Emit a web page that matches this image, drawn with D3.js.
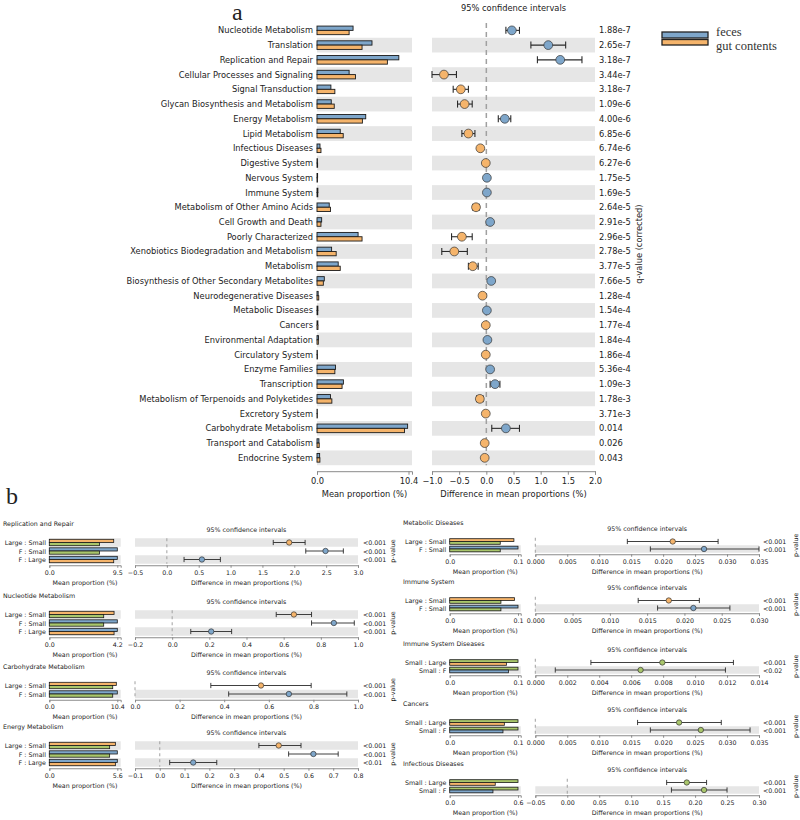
<!DOCTYPE html>
<html><head><meta charset="utf-8">
<script src="https://cdn.jsdelivr.net/npm/d3@7"></script>
<style>body{margin:0;background:#fff}svg{display:block}</style>
</head><body><svg id="c" width="800" height="820"></svg>
<script>
// ---------- Panel a data ----------
const catsA = ["Nucleotide Metabolism","Translation","Replication and Repair","Cellular Processes and Signaling","Signal Transduction","Glycan Biosynthesis and Metabolism","Energy Metabolism","Lipid Metabolism","Infectious Diseases","Digestive System","Nervous System","Immune System","Metabolism of Other Amino Acids","Cell Growth and Death","Poorly Characterized","Xenobiotics Biodegradation and Metabolism","Metabolism","Biosynthesis of Other Secondary Metabolites","Neurodegenerative Diseases","Metabolic Diseases","Cancers","Environmental Adaptation","Circulatory System","Enzyme Families","Transcription","Metabolism of Terpenoids and Polyketides","Excretory System","Carbohydrate Metabolism","Transport and Catabolism","Endocrine System"];
const fecesMeanA = [4.1,6.25,9.3,3.65,1.58,1.62,5.54,2.64,0.34,0.06,0.07,0.10,1.39,0.53,4.67,1.66,2.41,0.83,0.13,0.10,0.10,0.17,0.04,2.10,3.00,1.54,0.03,10.3,0.22,0.30];
const gutMeanA   = [3.65,5.12,8.0,4.37,2.03,1.96,5.16,2.98,0.45,0.07,0.06,0.09,1.54,0.45,5.12,2.18,2.64,0.72,0.20,0.09,0.11,0.15,0.05,2.03,2.85,1.69,0.04,9.95,0.25,0.33];
const diffA  = [0.47,1.14,1.36,-0.78,-0.47,-0.40,0.34,-0.33,-0.11,-0.01,0.01,0.01,-0.19,0.07,-0.45,-0.59,-0.25,0.09,-0.07,0.01,-0.01,0.02,-0.01,0.07,0.16,-0.12,-0.01,0.36,-0.03,-0.03];
const ciLowA = [0.36,0.82,0.94,-1.00,-0.61,-0.53,0.22,-0.45,-0.13,-0.02,0.00,0.00,-0.25,0.06,-0.64,-0.82,-0.33,0.07,-0.08,0.00,-0.02,0.01,-0.02,0.06,0.07,-0.18,-0.02,0.10,-0.04,-0.04];
const ciHighA= [0.61,1.46,1.76,-0.55,-0.33,-0.26,0.45,-0.21,-0.09,0.00,0.02,0.02,-0.13,0.08,-0.26,-0.35,-0.15,0.11,-0.06,0.02,0.00,0.03,0.00,0.08,0.25,-0.06,0.00,0.61,-0.02,-0.02];
const qValuesA = ["1.88e-7","2.65e-7","3.18e-7","3.44e-7","3.18e-7","1.09e-6","4.00e-6","6.85e-6","6.74e-6","6.27e-6","1.75e-5","1.69e-5","2.64e-5","2.91e-5","2.96e-5","2.78e-5","3.77e-5","7.66e-5","1.28e-4","1.54e-4","1.77e-4","1.84e-4","1.86e-4","5.36e-4","1.09e-3","1.78e-3","3.71e-3","0.014","0.026","0.043"];
const meanTicksA = ["0.0","10.4"];
const diffTicksA = ["−1.0","−0.5","0.0","0.5","1.0","1.5","2.0"];
const legendLabels = ["feces","gut contents"];

// ---------- Panel b data ----------
const bTitles = ["Replication and Repair","Nucleotide Metabolism","Carbohydrate Metabolism","Energy Metabolism","Metabolic Diseases","Immune System","Immune System Diseases","Cancers","Infectious Diseases"];
const bRows = [
  ["Large : Small","F : Small","F : Large"],
  ["Large : Small","F : Small","F : Large"],
  ["Large : Small","F : Small"],
  ["Large : Small","F : Small","F : Large"],
  ["Large : Small","F : Small"],
  ["Large : Small","F : Small"],
  ["Small : Large","Small : F"],
  ["Small : Large","Small : F"],
  ["Small : Large","Small : F"]];
const bTopMean = [[9.0,9.5,9.5],[4.0,4.2,4.2],[10.25,10.4],[5.44,5.6,5.6],[0.094,0.1],[0.095,0.1],[0.1,0.1],[0.1,0.1],[0.6,0.6]];
const bBottomMean = [[7.0,7.0,9.0],[3.36,3.36,4.0],[9.7,9.7],[4.97,4.97,5.44],[0.074,0.074],[0.075,0.075],[0.083,0.086],[0.080,0.078],[0.40,0.38]];
const bDiff = [[1.92,2.49,0.55],[0.655,0.87,0.21],[0.565,0.69],[0.48,0.62,0.135],[0.0215,0.0264],[0.0179,0.0212],[0.00795,0.00659],[0.0225,0.0259],[0.187,0.214]];
const bCiLow = [[1.67,2.18,0.27],[0.56,0.75,0.10],[0.34,0.42],[0.40,0.52,0.04],[0.0144,0.018],[0.0138,0.0164],[0.00348,0.00125],[0.016,0.018],[0.1555,0.163]];
const bCiHigh = [[2.17,2.77,0.84],[0.75,0.98,0.32],[0.79,0.95],[0.57,0.72,0.23],[0.0286,0.035],[0.022,0.0261],[0.0124,0.0119],[0.0291,0.0336],[0.218,0.25]];
const bPValues = [["<0.001","<0.001","<0.001"],["<0.001","<0.001","<0.001"],["<0.001","<0.001"],["<0.001","<0.001","<0.01"],["<0.001","<0.001"],["<0.001","<0.001"],["<0.001","<0.02"],["<0.001","<0.001"],["<0.001","<0.001"]];
const bMeanTicks = [["0.0","9.5"],["0.0","4.2"],["0.0","10.4"],["0.0","5.6"],["0.0","0.1"],["0.0","0.1"],["0.0","0.1"],["0.0","0.1"],["0.0","0.6"]];
const bDiffTicks = [
  ["−0.5","0.0","0.5","1.0","1.5","2.0","2.5","3.0"],
  ["−0.2","0.0","0.2","0.4","0.6","0.8","1.0"],
  ["0.0","0.2","0.4","0.6","0.8","1.0"],
  ["−0.1","0.0","0.1","0.2","0.3","0.4","0.5","0.6","0.7","0.8"],
  ["0.000","0.005","0.010","0.015","0.020","0.025","0.030","0.035"],
  ["0.000","0.005","0.010","0.015","0.020","0.025","0.030"],
  ["0.000","0.002","0.004","0.006","0.008","0.010","0.012","0.014"],
  ["0.000","0.005","0.010","0.015","0.020","0.025","0.030","0.035"],
  ["−0.05","0.00","0.05","0.10","0.15","0.20","0.25","0.30"]];

// ---------- styles ----------
const BLUE = "#7ea6ca", ORANGE = "#f5b46b", GREEN = "#a9c66b";
const groupColor = {F: BLUE, Large: ORANGE, Small: GREEN};
const BAND = "#e6e6e6", AX = "#8a8a8a", TXT = "#222", FONT = "DejaVu Sans";
const num = s => +String(s).replace("−", "-");
const svg = d3.select("#c");

function drawBlock(o) {
  const n = o.labels.length;
  const yb = d3.scaleBand().domain(d3.range(n)).range([o.yTop, o.yTop + n * o.step]);
  const cy = i => yb(i) + o.step / 2;
  const bandBottom = o.yTop + n * o.step;
  const mt = o.meanTicks.map(num);
  const mMax = mt[mt.length - 1];
  const xm = d3.scaleLinear().domain([0, mMax * o.ext]).range([o.mx0, o.mx0 + (o.mxTick - o.mx0) * o.ext]);
  const dt = o.diffTicks.map(num);
  const xd = d3.scaleLinear().domain([dt[0], dt[dt.length - 1]]).range([o.dx0, o.dx1]);
  const g = svg.append("g").style("font-family", FONT);
  const shaded = d3.range(n).filter(i => (n - 1 - i) % 2 === 0);
  g.selectAll(null).data(shaded).join("rect")
    .attr("x", xm.range()[0]).attr("y", i => yb(i)).attr("width", xm.range()[1] - xm.range()[0])
    .attr("height", o.step).attr("fill", BAND);
  g.selectAll(null).data(shaded).join("rect")
    .attr("x", o.dx0).attr("y", i => yb(i)).attr("width", o.dx1 - o.dx0)
    .attr("height", o.step).attr("fill", BAND);
  // row labels
  g.selectAll(null).data(o.labels).join("text")
    .attr("x", o.labelX).attr("y", (d, i) => cy(i)).attr("text-anchor", "end")
    .attr("dominant-baseline", "central").attr("fill", TXT).style("font-size", o.fs + "px").text(d => d);
  // bars
  const bars = d3.range(n).flatMap(i => [
    {i, v: o.top[i], c: o.topC[i], off: -o.barH},
    {i, v: o.bot[i], c: o.botC[i], off: 0}]);
  g.selectAll(null).data(bars).join("rect")
    .attr("x", xm(0)).attr("y", d => cy(d.i) + d.off)
    .attr("width", d => Math.max(0.3, xm(d.v) - xm(0))).attr("height", o.barH)
    .attr("fill", d => d.c).attr("stroke", "#1a1a1a").attr("stroke-width", o.sw);
  // zero line
  g.append("line").attr("x1", xd(0)).attr("x2", xd(0)).attr("y1", o.yTop).attr("y2", bandBottom)
    .attr("stroke", "#a0a0a0").attr("stroke-width", o.dashW).attr("stroke-dasharray", o.dash);
  // CIs
  const rows = d3.range(n);
  g.selectAll(null).data(rows).join("line")
    .attr("x1", i => xd(o.lo[i])).attr("x2", i => xd(o.hi[i])).attr("y1", cy).attr("y2", cy)
    .attr("stroke", "#2a2a2a").attr("stroke-width", o.lineW);
  rows.forEach(i => {
    [o.lo[i], o.hi[i]].forEach(v => {
      g.append("line").attr("x1", xd(v)).attr("x2", xd(v)).attr("y1", cy(i) - o.capH).attr("y2", cy(i) + o.capH)
        .attr("stroke", "#2a2a2a").attr("stroke-width", o.lineW);
    });
  });
  g.selectAll(null).data(rows).join("circle")
    .attr("cx", i => xd(o.diff[i])).attr("cy", cy).attr("r", o.r)
    .attr("fill", i => o.dotC[i]).attr("stroke", "#333").attr("stroke-width", 0.7);
  // axes
  const axY = bandBottom + o.axPad;
  function styleAxis(ax) {
    ax.attr("font-size", null).attr("font-family", null);
    ax.select(".domain").attr("stroke", AX);
    ax.selectAll(".tick line").attr("stroke", AX);
    ax.selectAll(".tick text").attr("y", o.tickLabDy).attr("dy", null).attr("dominant-baseline", "central")
      .attr("fill", TXT).style("font-size", o.fs + "px").style("font-family", FONT);
  }
  g.append("g").attr("transform", `translate(0,${axY})`)
    .call(d3.axisBottom(xm).tickValues(mt).tickFormat((d, i) => o.meanTicks[i]).tickSizeOuter(0).tickSize(o.tickLen))
    .call(styleAxis);
  g.append("g").attr("transform", `translate(0,${axY})`)
    .call(d3.axisBottom(xd).tickValues(dt).tickFormat((d, i) => o.diffTicks[i]).tickSizeOuter(0).tickSize(o.tickLen))
    .call(styleAxis);
  g.append("text").attr("x", (xm.range()[0] + xm.range()[1]) / 2).attr("y", axY + o.axLabDy)
    .attr("text-anchor", "middle").attr("dominant-baseline", "central").attr("fill", TXT)
    .style("font-size", o.fs + "px").text("Mean proportion (%)");
  g.append("text").attr("x", (o.dx0 + o.dx1) / 2).attr("y", axY + o.axLabDy)
    .attr("text-anchor", "middle").attr("dominant-baseline", "central").attr("fill", TXT)
    .style("font-size", o.fs + "px").text("Difference in mean proportions (%)");
  g.append("text").attr("x", (o.dx0 + o.dx1) / 2).attr("y", o.ciTitleY)
    .attr("text-anchor", "middle").attr("dominant-baseline", "central").attr("fill", TXT)
    .style("font-size", o.fs + "px").text("95% confidence intervals");
  // p / q values
  g.selectAll(null).data(o.pv).join("text")
    .attr("x", o.pX).attr("y", (d, i) => cy(i)).attr("dominant-baseline", "central")
    .attr("fill", TXT).style("font-size", o.fs + "px").text(d => d);
  const midY = (o.yTop + bandBottom) / 2;
  g.append("text").attr("transform", `translate(${o.pLabX},${midY}) rotate(-90)`)
    .attr("text-anchor", "middle").attr("dominant-baseline", "central").attr("fill", TXT)
    .style("font-size", o.fs + "px").text(o.pLabText);
  if (o.title) {
    g.append("text").attr("x", o.titleX).attr("y", o.titleY).attr("dominant-baseline", "central")
      .attr("fill", TXT).style("font-size", o.fs + "px").text(o.title);
  }
}

// ---------- Panel a ----------
drawBlock({
  labels: catsA, top: fecesMeanA, bot: gutMeanA,
  topC: catsA.map(() => BLUE), botC: catsA.map(() => ORANGE),
  diff: diffA, lo: ciLowA, hi: ciHighA, dotC: diffA.map(d => d > 0 ? BLUE : ORANGE),
  pv: qValuesA, meanTicks: meanTicksA, diffTicks: diffTicksA,
  yTop: 23, step: 14.74, labelX: 313, mx0: 317, mxTick: 408.5, ext: 1.038,
  dx0: 432, dx1: 595, pX: 599, pLabX: 639, pLabText: "q-value (corrected)",
  fs: 8.3, barH: 4.3, sw: 0.9, r: 4.4, capH: 3.5, lineW: 1.1,
  axPad: 6, tickLen: 3.5, tickLabDy: 10, axLabDy: 23, ciTitleY: 8, dash: "5,4", dashW: 1.5
});

// panel labels
svg.append("text").attr("x", 232).attr("y", 20).style("font-family", "Liberation Serif")
  .style("font-size", "24px").attr("fill", "#222").text("a");
svg.append("text").attr("x", 6).attr("y", 504).style("font-family", "Liberation Serif")
  .style("font-size", "24px").attr("fill", "#222").text("b");

// legend
const leg = svg.append("g");
leg.append("rect").attr("x", 662).attr("y", 32).attr("width", 46).attr("height", 6)
  .attr("fill", BLUE).attr("stroke", "#222").attr("stroke-width", 1.3);
leg.append("rect").attr("x", 662).attr("y", 39.5).attr("width", 46).attr("height", 5.5)
  .attr("fill", ORANGE).attr("stroke", "#222").attr("stroke-width", 1.3);
leg.selectAll(null).data(legendLabels).join("text")
  .attr("x", 716).attr("y", (d, i) => 35.5 + i * 14.2)
  .style("font-family", "Liberation Serif").style("font-size", "12.5px").attr("fill", "#333").text(d => d);

// ---------- Panel b ----------
const bLayout = [
  {col: 0, T: 523}, {col: 0, T: 595}, {col: 0, T: 666}, {col: 0, T: 726},
  {col: 1, T: 522}, {col: 1, T: 581}, {col: 1, T: 643}, {col: 1, T: 703}, {col: 1, T: 763}];
const colGeo = [
  {labelX: 46, mx0: 49.3, mxTick: 117.3, ext: 1.05, dx0: 135, dx1: 358, pX: 363, pLabX: 392, titleX: 3, step: 8.5, barH: 3.2},
  {labelX: 446.3, mx0: 449.7, mxTick: 518, ext: 1.04, dx0: 535.3, dx1: 759, pX: 763, pLabX: 795, titleX: 403, step: 7.5, barH: 2.8}];

bTitles.forEach((title, k) => {
  const L = bLayout[k], c = colGeo[L.col];
  const groups = bRows[k].map(s => s.split(" : "));
  drawBlock(Object.assign({}, c, {
    labels: bRows[k], top: bTopMean[k], bot: bBottomMean[k],
    topC: groups.map(p => groupColor[p[0]]), botC: groups.map(p => groupColor[p[1]]),
    diff: bDiff[k], lo: bCiLow[k], hi: bCiHigh[k], dotC: groups.map(p => groupColor[p[0]]),
    pv: bPValues[k], meanTicks: bMeanTicks[k], diffTicks: bDiffTicks[k],
    yTop: L.T + 19.5 - c.step / 2, pLabText: "p-value",
    fs: 6.3, sw: 0.8, r: 2.7, capH: 2.6, lineW: 0.9,
    axPad: 1.5, tickLen: 2.5, tickLabDy: 7, axLabDy: 17, ciTitleY: L.T + 6,
    dash: "3,3", dashW: 1, title: title, titleY: L.T
  }));
});
</script></body></html>
